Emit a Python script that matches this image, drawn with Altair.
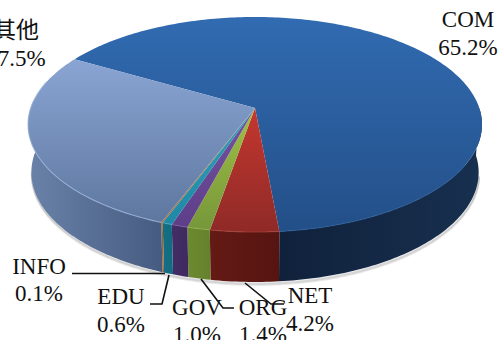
import math
import altair as alt
import pandas as pd

# Domain share by top-level domain, percent.
domains = ["COM", "NET", "ORG", "GOV", "EDU", "INFO", "其他"]
shares = [65.2, 4.2, 1.4, 1.0, 0.6, 0.1, 27.5]

# Top-face gradient (upper colour, lower colour) and wall gradient (left, right).
face_colors = {
    "COM": ("#316bb1", "#234f88"),
    "NET": ("#c4372f", "#8f2a27"),
    "ORG": ("#a0bf46", "#76973a"),
    "GOV": ("#7653a2", "#5d3e88"),
    "EDU": ("#31a1b9", "#1f88a6"),
    "INFO": ("#c27b45", "#a96c3a"),
    "其他": ("#8aa5d3", "#5d779f"),
}
wall_colors = {
    "COM": ("#10213b", "#17304f"),
    "NET": ("#641a15", "#561410"),
    "ORG": ("#6c8a30", "#66812d"),
    "GOV": ("#432d66", "#3e2a60"),
    "EDU": ("#127085", "#136a80"),
    "INFO": ("#a2632f", "#a2632f"),
    "其他": ("#6a82a9", "#465b80"),
}
rim_colors = {
    "COM": "#2a5b98", "NET": "#a8403a", "ORG": "#90ad50", "GOV": "#7a5aa0",
    "EDU": "#4aa8bc", "INFO": "#c08050", "其他": "#9db5da",
}

# Label placement, in pixels: (centre x, name baseline, share baseline).
label_pos = {
    "COM": (468, 27, 55),
    "NET": (310, 303, 331),
    "ORG": (263, 315, 342),
    "GOV": (197, 315, 342),
    "EDU": (121, 304, 332),
    "INFO": (39, 274, 301),
    "其他": (16, 38, 66),
}
# Leader lines from each small slice to its label.
leaders = {
    "INFO": [(72, 273.5), (165, 273.5)],
    "EDU": [(150, 304), (162, 304), (169, 275)],
    "ORG": [(201, 279), (223, 308), (234, 308)],
    "NET": [(245, 283), (271, 304), (284, 304)],
}

CX = 255
TILT = 0.1534


def top_point(deg):
    t = math.radians(deg)
    w = 1 + TILT * math.cos(t)
    return (CX + 224.3 * math.sin(t) / w, 108 - 105 * math.cos(t) / w)


def bottom_point(deg):
    t = math.radians(deg)
    w = 1 + TILT * math.cos(t)
    return (CX + 221 * math.sin(t) / w, 155.6 - 107 * math.cos(t) / w)


def sweep(a, b, step=1.0):
    n = max(2, int(abs(b - a) / step) + 1)
    return [a + (b - a) * i / n for i in range(n + 1)]


def polygon(points):
    ring = [list(p) for p in points] + [list(points[0])]
    return {
        "type": "Feature",
        "properties": {},
        "geometry": {"type": "Polygon", "coordinates": [ring]},
    }


# Slice angles run clockwise from the far side of the disc.
spans = {}
start = -60.0
for name, share in zip(domains, shares):
    spans[name] = (start, start + share * 3.6)
    start += share * 3.6


def shape_layer(feature, colors, horizontal=False):
    gradient = alt.LinearGradient(
        gradient="linear",
        x1=0, y1=0,
        x2=1 if horizontal else 0,
        y2=0 if horizontal else 1,
        stops=[
            alt.GradientStop(offset=0, color=colors[0]),
            alt.GradientStop(offset=1, color=colors[1]),
        ],
    )
    return (
        alt.Chart(alt.Data(values=[feature]))
        .mark_geoshape(fill=gradient, strokeWidth=0)
        .project(type="identity", scale=1, translate=[0, 0])
    )


# Soft shadow hugging the lower outline of the disc.
shadow_rows = []
for width_id, dy in enumerate([3.0, 2.0, 1.0]):
    for i, deg in enumerate(sweep(100, 262)):
        x, y = bottom_point(deg)
        shadow_rows.append({"px": x + 0.5, "py": y + dy, "band": width_id, "seq": i})
shadow = (
    alt.Chart(pd.DataFrame(shadow_rows))
    .mark_line(color="#555555", strokeWidth=2, opacity=0.13)
    .encode(
        x=alt.X("px:Q", scale=None),
        y=alt.Y("py:Q", scale=None),
        detail="band:N",
        order="seq:Q",
    )
)

layers = [shadow]

# Walls, only over the part of the rim that faces the viewer.
for name in domains:
    a, b = spans[name]
    if name == "COM":
        a = 90
    if name == "其他":
        b = 275
    angles = sweep(a, b)
    ring = [top_point(d) for d in angles] + [bottom_point(d) for d in reversed(angles)]
    layers.append(shape_layer(polygon(ring), wall_colors[name], horizontal=True))

# Top-face wedges, each closing on the apex.
for name in domains:
    a, b = spans[name]
    ring = [(CX, 108)] + [top_point(d) for d in sweep(a, b)]
    layers.append(shape_layer(polygon(ring), face_colors[name]))

# Thin lighter edge where each wedge meets the wall.
rim_rows = []
for name in domains:
    a, b = spans[name]
    if name == "COM":
        a = 120
    if name == "其他":
        b = 285
    for i, deg in enumerate(sweep(a, b)):
        x, y = top_point(deg)
        rim_rows.append({"px": x, "py": y, "slice": name, "seq": i, "tone": rim_colors[name]})
rim = (
    alt.Chart(pd.DataFrame(rim_rows))
    .mark_line(strokeWidth=1.2, opacity=0.7)
    .encode(
        x=alt.X("px:Q", scale=None),
        y=alt.Y("py:Q", scale=None),
        color=alt.Color("tone:N", scale=None),
        detail="slice:N",
        order="seq:Q",
    )
)
layers.append(rim)

# Leader lines.
leader_rows = [
    {"px": x, "py": y, "leader": name, "seq": i}
    for name, pts in leaders.items()
    for i, (x, y) in enumerate(pts)
]
leader_lines = (
    alt.Chart(pd.DataFrame(leader_rows))
    .mark_line(color="#111111", strokeWidth=1.6)
    .encode(
        x=alt.X("px:Q", scale=None),
        y=alt.Y("py:Q", scale=None),
        detail="leader:N",
        order="seq:Q",
    )
)
layers.append(leader_lines)

# Two-line labels: domain name above its share.
label_rows = []
for name, share in zip(domains, shares):
    cx, name_y, share_y = label_pos[name]
    label_rows.append({"px": cx, "py": name_y, "txt": name})
    label_rows.append({"px": cx, "py": share_y, "txt": f"{share:.1f}%"})
labels = (
    alt.Chart(pd.DataFrame(label_rows))
    .mark_text(
        font="Liberation Serif, Noto Sans CJK SC",
        fontSize=23,
        color="#111111",
        align="center",
        baseline="alphabetic",
    )
    .encode(
        x=alt.X("px:Q", scale=None),
        y=alt.Y("py:Q", scale=None),
        text="txt:N",
    )
)
layers.append(labels)

chart = (
    alt.layer(*layers)
    .properties(
        width=500,
        height=340,
        padding=0,
        autosize=alt.AutoSizeParams(type="none"),
        background="white",
    )
    .configure_view(stroke=None)
)

chart.save("out.html", embed_options={"renderer": "svg", "actions": False})
